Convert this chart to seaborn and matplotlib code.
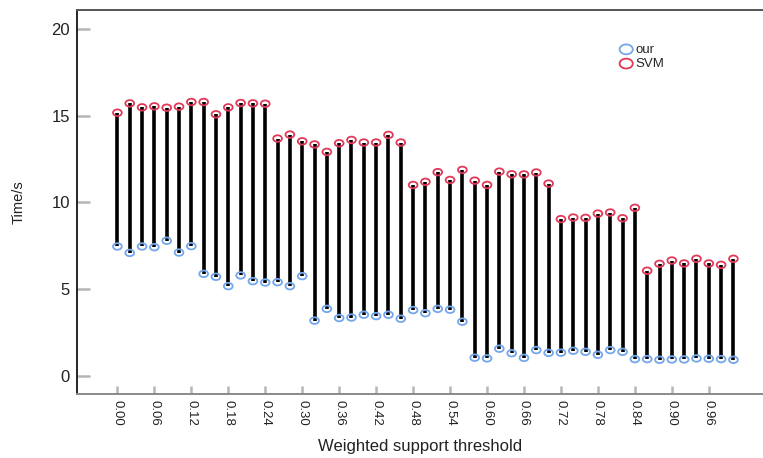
import numpy as np
import pandas as pd
import matplotlib
matplotlib.use("Agg")
import matplotlib.pyplot as plt
from matplotlib.path import Path
from matplotlib.transforms import Affine2D
import seaborn as sns

# Weighted support thresholds (x categories)
thresholds = [0.00, 0.02, 0.04, 0.06, 0.08, 0.10, 0.12, 0.14, 0.16, 0.18,
              0.20, 0.22, 0.24, 0.26, 0.28, 0.30, 0.32, 0.34, 0.36, 0.38,
              0.40, 0.42, 0.44, 0.46, 0.48, 0.50, 0.52, 0.54, 0.56, 0.58,
              0.60, 0.62, 0.64, 0.66, 0.68, 0.70, 0.72, 0.74, 0.76, 0.78,
              0.80, 0.82, 0.84, 0.86, 0.88, 0.90, 0.92, 0.94, 0.96, 0.98,
              1.00]

# Running time (s) of our method
our_time = [7.46, 7.09, 7.46, 7.42, 7.79, 7.11, 7.48, 5.88, 5.71, 5.17,
            5.79, 5.46, 5.38, 5.40, 5.17, 5.75, 3.18, 3.86, 3.33, 3.36,
            3.52, 3.44, 3.52, 3.29, 3.79, 3.61, 3.86, 3.81, 3.12, 1.04,
            1.00, 1.56, 1.30, 1.03, 1.48, 1.32, 1.33, 1.44, 1.38, 1.21,
            1.48, 1.38, 0.96, 0.96, 0.92, 0.94, 0.94, 1.00, 0.98, 0.96,
            0.92]

# Running time (s) of SVM
svm_time = [15.18, 15.72, 15.49, 15.55, 15.47, 15.53, 15.80, 15.80, 15.09, 15.49,
            15.74, 15.72, 15.70, 13.69, 13.92, 13.53, 13.35, 12.92, 13.42, 13.61,
            13.46, 13.46, 13.90, 13.46, 11.01, 11.19, 11.75, 11.30, 11.88, 11.26,
            11.01, 11.78, 11.63, 11.62, 11.73, 11.09, 9.04, 9.13, 9.11, 9.36,
            9.42, 9.09, 9.69, 6.06, 6.46, 6.65, 6.48, 6.75, 6.48, 6.40,
            6.75]

x_tick_values = [0.00, 0.06, 0.12, 0.18, 0.24, 0.30, 0.36, 0.42, 0.48,
                 0.54, 0.60, 0.66, 0.72, 0.78, 0.84, 0.90, 0.96]
x_tick_labels = ["0.00", "0.06", "0.12", "0.18", "0.24", "0.30", "0.36", "0.42", "0.48",
                 "0.54", "0.60", "0.66", "0.72", "0.78", "0.84", "0.90", "0.96"]
y_tick_values = [0, 5, 10, 15, 20]

our_color = "#74a6ec"
svm_color = "#e03a58"

sns.set_theme(style="white")
plt.rcParams["font.family"] = ["Liberation Sans", "DejaVu Sans"]

W, H = 763, 458
fig = plt.figure(figsize=(W / 100, H / 100), dpi=100)
left_px, right_px, top_px, bottom_px = 77, 763, 10, 394
ax = fig.add_axes([left_px / W, 1 - bottom_px / H,
                   (right_px - left_px) / W, (bottom_px - top_px) / H])

# Long-form table: one vertical segment per threshold
long = pd.DataFrame({
    "threshold": thresholds + thresholds,
    "time": our_time + svm_time,
    "pair": list(range(len(thresholds))) * 2,
})
sns.lineplot(data=long, x="threshold", y="time", units="pair", estimator=None,
             sort=False, color="black", linewidth=2.6, legend=False, ax=ax,
             solid_capstyle="butt", zorder=2)

# Slightly flattened open circle marker
ellipse = Affine2D().scale(1.0, 0.75).transform_path(Path.unit_circle())

sns.scatterplot(x=thresholds, y=our_time, marker=ellipse, s=40,
                facecolor="none", edgecolor=our_color, linewidth=1.3,
                label="our", ax=ax, zorder=3)
sns.scatterplot(x=thresholds, y=svm_time, marker=ellipse, s=40,
                facecolor="none", edgecolor=svm_color, linewidth=1.3,
                label="SVM", ax=ax, zorder=3)

ax.set_xlim(-0.0656, 1.048)
ax.set_ylim(-1.055, 21.11)
ax.set_xticks(x_tick_values)
ax.set_xticklabels(x_tick_labels, rotation=-90, fontsize=9.5, color="#222222")
ax.set_yticks(y_tick_values)
ax.set_yticklabels([str(v) for v in y_tick_values], fontsize=12, color="#222222")

ax.tick_params(axis="both", direction="in", color="#b5b5b5", width=1.8,
               bottom=True, left=True, top=False, right=False)
ax.tick_params(axis="y", length=9, pad=5)
ax.tick_params(axis="x", length=6, pad=4)

ax.spines["left"].set_color("black")
ax.spines["left"].set_linewidth(1.2)
ax.spines["top"].set_color("#555555")
ax.spines["top"].set_linewidth(1.4)
ax.spines["bottom"].set_color("#8a8a8a")
ax.spines["bottom"].set_linewidth(1.4)
ax.spines["right"].set_visible(False)

ax.set_xlabel("Weighted support threshold", fontsize=12, color="#222222")
ax.set_ylabel("Time/s", fontsize=10.5, color="#222222")
ax.xaxis.set_label_coords(0.5, -0.118)
ax.yaxis.set_label_coords(-0.075, 0.5)

leg = ax.legend(loc="upper left", bbox_to_anchor=(613 / W, 1 - 37 / H),
                bbox_transform=fig.transFigure, frameon=False, fontsize=9.5,
                markerscale=1.5, handletextpad=0.2, labelspacing=0.15,
                borderpad=0, handlelength=1.0)

fig.savefig("out.png", dpi=100)
